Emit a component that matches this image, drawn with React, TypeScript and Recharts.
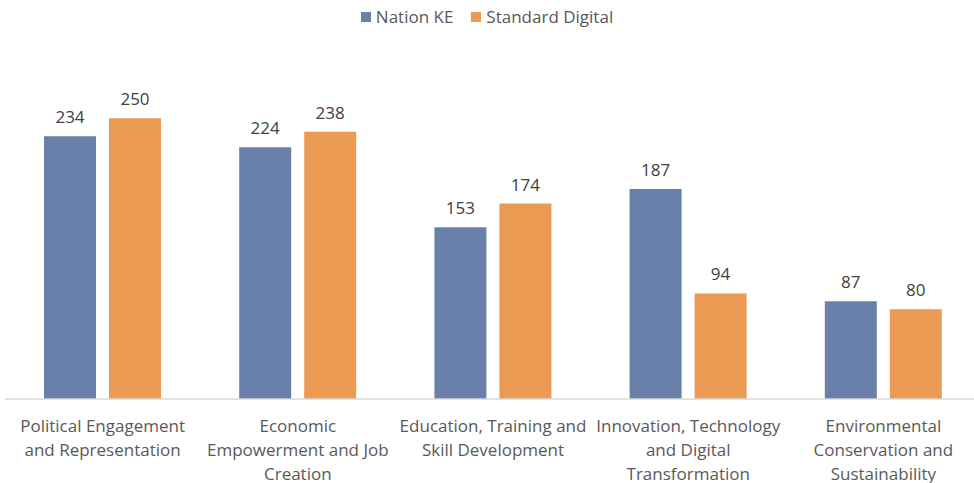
import { BarChart, Bar, XAxis, YAxis, Legend, LabelList } from 'recharts';

const categories = [
  'Political Engagement and Representation',
  'Economic Empowerment and Job Creation',
  'Education, Training and Skill Development',
  'Innovation, Technology and Digital Transformation',
  'Environmental Conservation and Sustainability',
];
const categoryLines = [
  ['Political Engagement', 'and Representation'],
  ['Economic', 'Empowerment and Job', 'Creation'],
  ['Education, Training and', 'Skill Development'],
  ['Innovation, Technology', 'and Digital', 'Transformation'],
  ['Environmental', 'Conservation and', 'Sustainability'],
];
const nationKE = [234, 224, 153, 187, 87];
const standardDigital = [250, 238, 174, 94, 80];

const data = categories.map((c, i) => ({
  name: c,
  idx: i,
  nation: nationKE[i],
  standard: standardDigital[i],
}));

const BLUE = '#6980AB';
const ORANGE = '#EA9A52';
const FONT = '"Open Sans", sans-serif';

function CategoryTick(props: any) {
  const { x, y, payload } = props;
  const lines = categoryLines[payload.index] || [payload.value];
  return (
    <g transform={`translate(${x},${y})`}>
      {lines.map((l, i) => (
        <text
          key={i}
          x={0}
          y={18 + i * 24}
          textAnchor="middle"
          dominantBaseline="central"
          fill="#595959"
          fontSize={17}
          fontFamily={FONT}
        >
          {l}
        </text>
      ))}
    </g>
  );
}

function LegendContent() {
  const items = [
    { label: 'Nation KE', color: BLUE },
    { label: 'Standard Digital', color: ORANGE },
  ];
  return (
    <div style={{ display: 'flex', justifyContent: 'center', gap: 18, fontFamily: FONT, fontSize: 17, color: '#595959' }}>
      {items.map((it) => (
        <div key={it.label} style={{ display: 'flex', alignItems: 'center', gap: 5 }}>
          <span style={{ display: 'inline-block', width: 10, height: 10, background: it.color }} />
          <span>{it.label}</span>
        </div>
      ))}
    </div>
  );
}

export default function App() {
  return (
    <div style={{ position: 'absolute', left: 0, top: 0, width: 974, height: 483, overflow: 'hidden', background: '#fff' }}>
      <BarChart
        width={990}
        height={483}
        data={data}
        margin={{ top: 39, right: 9, left: 5, bottom: 0 }}
        barGap={13}
        barCategoryGap={39}
      >
        <XAxis
          dataKey="name"
          axisLine={{ stroke: '#D9D9D9', strokeWidth: 1.5 }}
          tickLine={false}
          height={84}
          interval={0}
          tick={<CategoryTick />}
        />
        <YAxis hide domain={[0, 300]} />
        <Legend
          verticalAlign="top"
          content={<LegendContent />}
          wrapperStyle={{ position: 'absolute', top: 5, left: 0, width: 974 }}
        />
        <Bar dataKey="nation" name="Nation KE" fill={BLUE} barSize={52} isAnimationActive={false}>
          <LabelList dataKey="nation" position="top" offset={13} fill="#404040" fontSize={17} fontFamily={FONT} />
        </Bar>
        <Bar dataKey="standard" name="Standard Digital" fill={ORANGE} barSize={52} isAnimationActive={false}>
          <LabelList dataKey="standard" position="top" offset={13} fill="#404040" fontSize={17} fontFamily={FONT} />
        </Bar>
      </BarChart>
    </div>
  );
}
